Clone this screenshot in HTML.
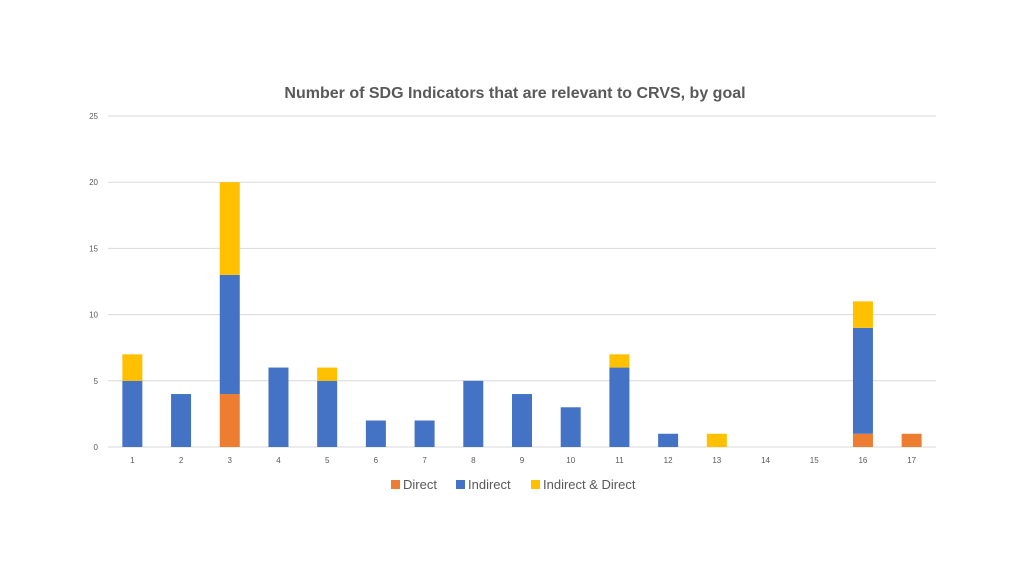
<!DOCTYPE html>
<html><head><meta charset="utf-8"><style>
body{margin:0;background:#fff;font-family:"Liberation Sans",sans-serif;}
svg text{font-family:"Liberation Sans",sans-serif;}
</style></head><body>
<svg id="chart" width="1024" height="576">
<text x="515" y="98" text-anchor="middle" font-size="16" font-weight="bold" fill="#595959">Number of SDG Indicators that are relevant to CRVS, by goal</text>
<g id="grid"></g><g id="bars"></g><g id="xlabels"></g>
<g>
<rect x="391" y="480" width="9" height="9" fill="#ED7D31"/>
<text x="403" y="489" font-size="13" fill="#595959">Direct</text>
<rect x="456" y="480" width="9" height="9" fill="#4472C4"/>
<text x="468" y="489" font-size="13" fill="#595959">Indirect</text>
<rect x="531" y="480" width="9" height="9" fill="#FFC000"/>
<text x="543" y="489" font-size="13" fill="#595959">Indirect &amp; Direct</text>
</g>
</svg>
<script>
const categories=["1","2","3","4","5","6","7","8","9","10","11","12","13","14","15","16","17"];
const direct=[0,0,4,0,0,0,0,0,0,0,0,0,0,0,0,1,1];
const indirect=[5,4,9,6,5,2,2,5,4,3,6,1,0,0,0,8,0];
const both=[2,0,7,0,1,0,0,0,0,0,1,0,1,0,0,2,0];
const yTicks=[0,5,10,15,20,25];
const NS="http://www.w3.org/2000/svg";
const x0=108,x1=936,yBase=447,yTop=116,yMax=25;
const y=v=>yBase-(v/yMax)*(yBase-yTop);
const step=(x1-x0)/categories.length;
const xc=i=>x0+step*(i+0.5);
const bw=20;
const grid=document.getElementById('grid');
yTicks.forEach(t=>{
 const l=document.createElementNS(NS,'line');
 l.setAttribute('x1',x0);l.setAttribute('x2',x1);l.setAttribute('y1',y(t));l.setAttribute('y2',y(t));
 l.setAttribute('stroke','#d9d9d9');l.setAttribute('stroke-width','1');
 
 
 grid.appendChild(l);
 const tx=document.createElementNS(NS,'text');
 tx.setAttribute('x',98);tx.setAttribute('y',y(t)+3);tx.setAttribute('text-anchor','end');
 tx.setAttribute('font-size','8');tx.setAttribute('fill','#595959');tx.textContent=t;
 
 
 grid.appendChild(tx);
});
const bars=document.getElementById('bars'),xl=document.getElementById('xlabels');
const series=[[direct,'#ED7D31','direct'],[indirect,'#4472C4','indirect'],[both,'#FFC000','both']];
categories.forEach((c,i)=>{
 let acc=0;
 series.forEach(([arr,col,nm])=>{
  const v=arr[i];
  if(v>0){
   const r=document.createElementNS(NS,'rect');
   r.setAttribute('x',xc(i)-bw/2);r.setAttribute('width',bw);
   r.setAttribute('y',y(acc+v));r.setAttribute('height',y(acc)-y(acc+v));
   r.setAttribute('fill',col);
   
   
   bars.appendChild(r);
  }
  acc+=v;
 });
 const tx=document.createElementNS(NS,'text');
 tx.setAttribute('x',xc(i));tx.setAttribute('y',463);tx.setAttribute('text-anchor','middle');
 tx.setAttribute('font-size','8');tx.setAttribute('fill','#595959');tx.textContent=c;
 
 
 xl.appendChild(tx);
});
</script>
</body></html>
